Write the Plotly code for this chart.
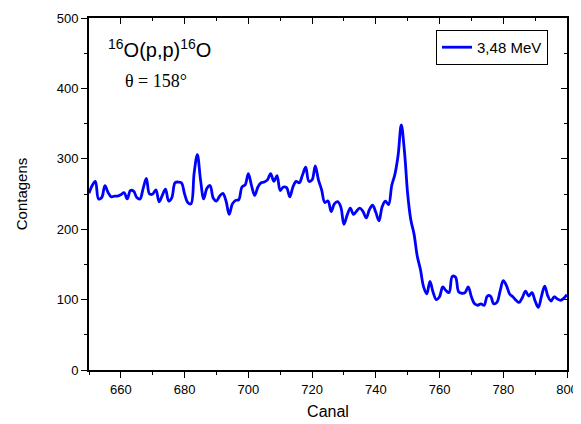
import plotly.graph_objects as go

channels = list(range(650, 801))
counts = [
    251, 262, 268, 243, 245, 262, 252, 246, 247, 247,   # 650-659
    249, 252, 243, 255, 254, 245, 243, 258, 272, 250,   # 660-669
    250, 256, 239, 248, 257, 240, 245, 266, 267, 266,   # 670-679
    250, 238, 236, 280, 306, 270, 243, 258, 262, 244,   # 680-689
    240, 247, 251, 240, 221, 236, 241, 242, 260, 263,   # 690-699
    279, 262, 248, 260, 266, 267, 270, 279, 268, 276,   # 700-709
    255, 260, 259, 246, 260, 268, 266, 277, 288, 268,   # 710-719
    270, 290, 270, 256, 238, 240, 225, 236, 239, 232,   # 720-729
    207, 220, 230, 221, 226, 230, 225, 216, 228, 234,   # 730-739
    224, 212, 232, 240, 235, 262, 278, 305, 348, 310,   # 740-749
    250, 213, 193, 162, 143, 118, 108, 126, 110, 100,   # 750-759
    104, 118, 113, 110, 133, 132, 111, 109, 110, 118,   # 760-769
    104, 94, 92, 94, 92, 105, 105, 94, 96, 112,         # 770-779
    127, 120, 108, 104, 99, 96, 103, 112, 105, 110,     # 780-789
    98, 89, 105, 119, 105, 98, 104, 101, 99, 102,       # 790-799
    107,                                                # 800
]
series_name = "3,48 MeV"
x_ticks = [660, 680, 700, 720, 740, 760, 780, 800]
y_ticks = [0, 100, 200, 300, 400, 500]

fig = go.Figure()
fig.add_trace(go.Scatter(
    x=channels, y=counts, mode="lines", name=series_name,
    line=dict(color="#0000FF", width=2.8, shape="spline", smoothing=1.0),
))
fig.add_trace(go.Scatter(
    x=[], y=[], xaxis="x2", yaxis="y2", showlegend=False, hoverinfo="skip",
))

axis_font = dict(family="Arial, Liberation Sans, sans-serif", size=13, color="black")

# page body keeps an 8px margin, so the figure is 8px smaller than the window
fig.update_layout(
    width=573, height=416,
    margin=dict(l=80.5, r=14, t=10, b=53.5, autoexpand=False),
    paper_bgcolor="white", plot_bgcolor="white",
    font=dict(family="Arial, Liberation Sans, sans-serif", color="black"),
    xaxis=dict(
        range=[650, 800], tickvals=x_ticks, ticks="outside", ticklen=6, tickwidth=1.3,
        tickcolor="black", showline=True, linecolor="black", linewidth=1.8,
        showgrid=False, zeroline=False, tickfont=axis_font, automargin=False,
        minor=dict(dtick=10, tick0=650, ticks="outside", ticklen=3, tickwidth=1.3, tickcolor="black"),
        title=dict(text="Canal", font=dict(size=16, color="black"), standoff=10),
    ),
    yaxis=dict(
        range=[0, 500], tickvals=y_ticks, ticks="outside", ticklen=6, tickwidth=1.3,
        tickcolor="black", showline=True, linecolor="black", linewidth=1.8,
        showgrid=False, zeroline=False, tickfont=axis_font, automargin=False,
        minor=dict(dtick=50, tick0=0, ticks="outside", ticklen=3, tickwidth=1.3, tickcolor="black"),
        title=dict(text="Contagens", font=dict(size=15, color="black"), standoff=26),
    ),
    xaxis2=dict(
        overlaying="x", side="top", anchor="y", range=[650, 800], tickvals=x_ticks,
        ticks="inside", ticklen=6, tickwidth=1.3, tickcolor="black", showticklabels=False,
        showline=True, linecolor="black", linewidth=1.8, showgrid=False, zeroline=False,
        automargin=False,
        minor=dict(dtick=10, tick0=650, ticks="inside", ticklen=3, tickwidth=1.3, tickcolor="black"),
    ),
    yaxis2=dict(
        overlaying="y", side="right", anchor="x", range=[0, 500], tickvals=y_ticks,
        ticks="inside", ticklen=6, tickwidth=1.3, tickcolor="black", showticklabels=False,
        showline=True, linecolor="black", linewidth=1.8, showgrid=False, zeroline=False,
        automargin=False,
        minor=dict(dtick=50, tick0=0, ticks="inside", ticklen=3, tickwidth=1.3, tickcolor="black"),
    ),
    legend=dict(
        x=0.9603, y=0.966, xanchor="right", yanchor="top",
        bgcolor="white", bordercolor="black", borderwidth=1,
        font=dict(size=15, color="black"), tracegroupgap=0,
    ),
    showlegend=True,
)

fig.add_annotation(
    text="<sup>16</sup>O(p,p)<sup>16</sup>O", xref="paper", yref="paper",
    x=0.0366, y=0.914, xanchor="left", yanchor="middle", showarrow=False,
    font=dict(family="Arial, Liberation Sans, sans-serif", size=20, color="black"),
)
fig.add_annotation(
    text="θ = 158°", xref="paper", yref="paper",
    x=0.072, y=0.821, xanchor="left", yanchor="middle", showarrow=False,
    font=dict(family="Liberation Serif, Times New Roman, serif", size=18, color="black"),
)

fig.write_html("out.html")
